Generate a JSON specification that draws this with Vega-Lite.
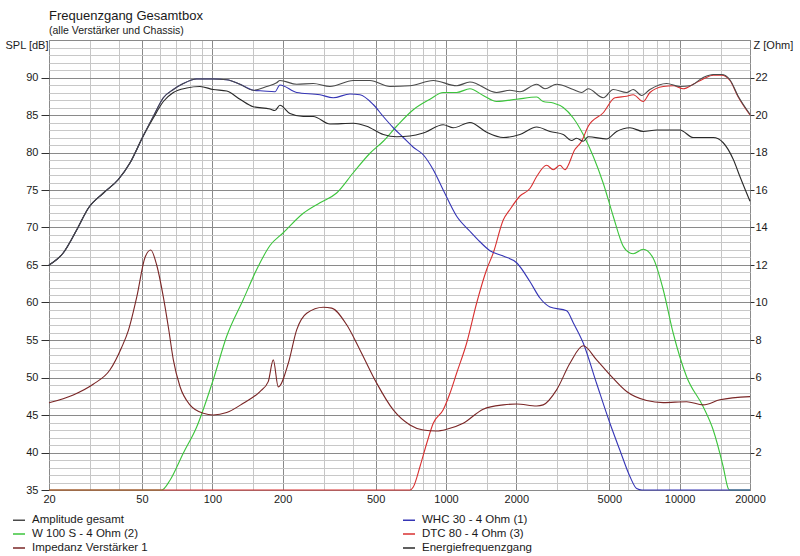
{
  "$schema": "https://vega.github.io/schema/vega-lite/v6.json",
  "width": 701,
  "height": 450,
  "autosize": {"type": "none"},
  "padding": {"left": 49, "top": 40, "right": 50, "bottom": 66},
  "background": "white",
  "title": {
    "text": "Frequenzgang Gesamtbox",
    "subtitle": "(alle Verstärker und Chassis)",
    "anchor": "start",
    "frame": "group",
    "font": "Liberation Sans",
    "fontSize": 13,
    "fontWeight": "normal",
    "color": "#1a1a1a",
    "subtitleFont": "Liberation Sans",
    "subtitleFontSize": 10.5,
    "subtitleColor": "#1a1a1a",
    "subtitlePadding": 3,
    "offset": -2
  },
  "datasets": {
    "spl": [
      {"s": "Amplitude gesamt", "f": 20, "v": 65.0},
      {"s": "Amplitude gesamt", "f": 23, "v": 66.6},
      {"s": "Amplitude gesamt", "f": 26.3, "v": 69.7},
      {"s": "Amplitude gesamt", "f": 29.5, "v": 72.6},
      {"s": "Amplitude gesamt", "f": 34.2, "v": 74.6},
      {"s": "Amplitude gesamt", "f": 39.6, "v": 76.4},
      {"s": "Amplitude gesamt", "f": 44.4, "v": 78.6},
      {"s": "Amplitude gesamt", "f": 50.6, "v": 82.2},
      {"s": "Amplitude gesamt", "f": 55.9, "v": 84.8},
      {"s": "Amplitude gesamt", "f": 61.7, "v": 87.3},
      {"s": "Amplitude gesamt", "f": 68.1, "v": 88.4},
      {"s": "Amplitude gesamt", "f": 75.1, "v": 89.2},
      {"s": "Amplitude gesamt", "f": 85.7, "v": 89.8},
      {"s": "Amplitude gesamt", "f": 100.9, "v": 89.8},
      {"s": "Amplitude gesamt", "f": 115.2, "v": 89.7},
      {"s": "Amplitude gesamt", "f": 131.3, "v": 89.1},
      {"s": "Amplitude gesamt", "f": 149.7, "v": 88.3},
      {"s": "Amplitude gesamt", "f": 170.8, "v": 88.8},
      {"s": "Amplitude gesamt", "f": 188.5, "v": 89.3},
      {"s": "Amplitude gesamt", "f": 194.7, "v": 89.6},
      {"s": "Amplitude gesamt", "f": 229.6, "v": 89.1},
      {"s": "Amplitude gesamt", "f": 270.4, "v": 89.2},
      {"s": "Amplitude gesamt", "f": 318.8, "v": 88.8},
      {"s": "Amplitude gesamt", "f": 401, "v": 89.6},
      {"s": "Amplitude gesamt", "f": 472.8, "v": 89.6},
      {"s": "Amplitude gesamt", "f": 575.8, "v": 88.8},
      {"s": "Amplitude gesamt", "f": 701, "v": 88.9},
      {"s": "Amplitude gesamt", "f": 882, "v": 89.6},
      {"s": "Amplitude gesamt", "f": 1111, "v": 88.9},
      {"s": "Amplitude gesamt", "f": 1266, "v": 89.4},
      {"s": "Amplitude gesamt", "f": 1647, "v": 88.0},
      {"s": "Amplitude gesamt", "f": 1878, "v": 88.3},
      {"s": "Amplitude gesamt", "f": 2072, "v": 88.1},
      {"s": "Amplitude gesamt", "f": 2444, "v": 89.1},
      {"s": "Amplitude gesamt", "f": 2652, "v": 88.5},
      {"s": "Amplitude gesamt", "f": 2974, "v": 89.1},
      {"s": "Amplitude gesamt", "f": 3504, "v": 88.4},
      {"s": "Amplitude gesamt", "f": 3806, "v": 88.0},
      {"s": "Amplitude gesamt", "f": 4062, "v": 88.5},
      {"s": "Amplitude gesamt", "f": 4710, "v": 87.3},
      {"s": "Amplitude gesamt", "f": 5196, "v": 88.4},
      {"s": "Amplitude gesamt", "f": 5930, "v": 88.0},
      {"s": "Amplitude gesamt", "f": 6328, "v": 88.4},
      {"s": "Amplitude gesamt", "f": 6874, "v": 87.6},
      {"s": "Amplitude gesamt", "f": 7460, "v": 88.4},
      {"s": "Amplitude gesamt", "f": 8794, "v": 89.2},
      {"s": "Amplitude gesamt", "f": 10026, "v": 88.8},
      {"s": "Amplitude gesamt", "f": 11062, "v": 88.9},
      {"s": "Amplitude gesamt", "f": 12610, "v": 90.0},
      {"s": "Amplitude gesamt", "f": 13920, "v": 90.4},
      {"s": "Amplitude gesamt", "f": 15118, "v": 90.4},
      {"s": "Amplitude gesamt", "f": 16408, "v": 89.7},
      {"s": "Amplitude gesamt", "f": 17806, "v": 87.5},
      {"s": "Amplitude gesamt", "f": 20000, "v": 85.1},

      {"s": "Energiefrequenzgang", "f": 20, "v": 65.0},
      {"s": "Energiefrequenzgang", "f": 23, "v": 66.6},
      {"s": "Energiefrequenzgang", "f": 26.3, "v": 69.7},
      {"s": "Energiefrequenzgang", "f": 29.5, "v": 72.6},
      {"s": "Energiefrequenzgang", "f": 34.2, "v": 74.6},
      {"s": "Energiefrequenzgang", "f": 39.6, "v": 76.4},
      {"s": "Energiefrequenzgang", "f": 44.4, "v": 78.6},
      {"s": "Energiefrequenzgang", "f": 50.6, "v": 82.2},
      {"s": "Energiefrequenzgang", "f": 55.9, "v": 84.6},
      {"s": "Energiefrequenzgang", "f": 61.7, "v": 86.8},
      {"s": "Energiefrequenzgang", "f": 68.1, "v": 88.0},
      {"s": "Energiefrequenzgang", "f": 77.7, "v": 88.6},
      {"s": "Energiefrequenzgang", "f": 88.5, "v": 88.8},
      {"s": "Energiefrequenzgang", "f": 100.9, "v": 88.4},
      {"s": "Energiefrequenzgang", "f": 115.2, "v": 88.2},
      {"s": "Energiefrequenzgang", "f": 131.3, "v": 87.1},
      {"s": "Energiefrequenzgang", "f": 149.7, "v": 86.1},
      {"s": "Energiefrequenzgang", "f": 176.5, "v": 85.8},
      {"s": "Energiefrequenzgang", "f": 185.4, "v": 85.6},
      {"s": "Energiefrequenzgang", "f": 194.7, "v": 86.3},
      {"s": "Energiefrequenzgang", "f": 214.9, "v": 85.2},
      {"s": "Energiefrequenzgang", "f": 245, "v": 84.8},
      {"s": "Energiefrequenzgang", "f": 270.4, "v": 84.8},
      {"s": "Energiefrequenzgang", "f": 318.8, "v": 83.8},
      {"s": "Energiefrequenzgang", "f": 401, "v": 83.9},
      {"s": "Energiefrequenzgang", "f": 457.6, "v": 83.5},
      {"s": "Energiefrequenzgang", "f": 539, "v": 82.4},
      {"s": "Energiefrequenzgang", "f": 614.8, "v": 82.1},
      {"s": "Energiefrequenzgang", "f": 701, "v": 82.2},
      {"s": "Energiefrequenzgang", "f": 799, "v": 82.6},
      {"s": "Energiefrequenzgang", "f": 973, "v": 83.7},
      {"s": "Energiefrequenzgang", "f": 1074, "v": 83.3},
      {"s": "Energiefrequenzgang", "f": 1266, "v": 84.0},
      {"s": "Energiefrequenzgang", "f": 1493, "v": 82.7},
      {"s": "Energiefrequenzgang", "f": 1758, "v": 82.0},
      {"s": "Energiefrequenzgang", "f": 2072, "v": 82.4},
      {"s": "Energiefrequenzgang", "f": 2444, "v": 83.4},
      {"s": "Energiefrequenzgang", "f": 2786, "v": 82.8},
      {"s": "Energiefrequenzgang", "f": 3176, "v": 82.4},
      {"s": "Energiefrequenzgang", "f": 3448, "v": 81.6},
      {"s": "Energiefrequenzgang", "f": 3622, "v": 81.9},
      {"s": "Energiefrequenzgang", "f": 3866, "v": 81.5},
      {"s": "Energiefrequenzgang", "f": 4062, "v": 82.1},
      {"s": "Energiefrequenzgang", "f": 4870, "v": 81.8},
      {"s": "Energiefrequenzgang", "f": 5374, "v": 82.8},
      {"s": "Energiefrequenzgang", "f": 6126, "v": 83.3},
      {"s": "Energiefrequenzgang", "f": 6982, "v": 82.8},
      {"s": "Energiefrequenzgang", "f": 7968, "v": 83.0},
      {"s": "Energiefrequenzgang", "f": 10026, "v": 83.0},
      {"s": "Energiefrequenzgang", "f": 11428, "v": 82.0},
      {"s": "Energiefrequenzgang", "f": 13920, "v": 82.0},
      {"s": "Energiefrequenzgang", "f": 15358, "v": 81.3},
      {"s": "Energiefrequenzgang", "f": 16950, "v": 79.1},
      {"s": "Energiefrequenzgang", "f": 18108, "v": 76.8},
      {"s": "Energiefrequenzgang", "f": 20000, "v": 73.5},

      {"s": "WHC 30 - 4 Ohm (1)", "f": 20, "v": 65.0},
      {"s": "WHC 30 - 4 Ohm (1)", "f": 23, "v": 66.6},
      {"s": "WHC 30 - 4 Ohm (1)", "f": 26.3, "v": 69.7},
      {"s": "WHC 30 - 4 Ohm (1)", "f": 29.5, "v": 72.6},
      {"s": "WHC 30 - 4 Ohm (1)", "f": 34.2, "v": 74.6},
      {"s": "WHC 30 - 4 Ohm (1)", "f": 39.6, "v": 76.4},
      {"s": "WHC 30 - 4 Ohm (1)", "f": 44.4, "v": 78.6},
      {"s": "WHC 30 - 4 Ohm (1)", "f": 50.6, "v": 82.2},
      {"s": "WHC 30 - 4 Ohm (1)", "f": 55.9, "v": 84.8},
      {"s": "WHC 30 - 4 Ohm (1)", "f": 61.7, "v": 87.3},
      {"s": "WHC 30 - 4 Ohm (1)", "f": 68.1, "v": 88.4},
      {"s": "WHC 30 - 4 Ohm (1)", "f": 75.1, "v": 89.2},
      {"s": "WHC 30 - 4 Ohm (1)", "f": 85.7, "v": 89.8},
      {"s": "WHC 30 - 4 Ohm (1)", "f": 100.9, "v": 89.8},
      {"s": "WHC 30 - 4 Ohm (1)", "f": 115.2, "v": 89.7},
      {"s": "WHC 30 - 4 Ohm (1)", "f": 131.3, "v": 89.1},
      {"s": "WHC 30 - 4 Ohm (1)", "f": 149.7, "v": 88.3},
      {"s": "WHC 30 - 4 Ohm (1)", "f": 165.2, "v": 88.2},
      {"s": "WHC 30 - 4 Ohm (1)", "f": 185.4, "v": 88.1},
      {"s": "WHC 30 - 4 Ohm (1)", "f": 194.7, "v": 89.0},
      {"s": "WHC 30 - 4 Ohm (1)", "f": 229.6, "v": 88.0},
      {"s": "WHC 30 - 4 Ohm (1)", "f": 288.8, "v": 87.7},
      {"s": "WHC 30 - 4 Ohm (1)", "f": 329.2, "v": 87.3},
      {"s": "WHC 30 - 4 Ohm (1)", "f": 388.2, "v": 87.8},
      {"s": "WHC 30 - 4 Ohm (1)", "f": 428.4, "v": 87.7},
      {"s": "WHC 30 - 4 Ohm (1)", "f": 488.4, "v": 86.4},
      {"s": "WHC 30 - 4 Ohm (1)", "f": 539, "v": 84.8},
      {"s": "WHC 30 - 4 Ohm (1)", "f": 594.8, "v": 83.3},
      {"s": "WHC 30 - 4 Ohm (1)", "f": 656.2, "v": 82.0},
      {"s": "WHC 30 - 4 Ohm (1)", "f": 724.4, "v": 80.7},
      {"s": "WHC 30 - 4 Ohm (1)", "f": 799, "v": 79.7},
      {"s": "WHC 30 - 4 Ohm (1)", "f": 882, "v": 77.7},
      {"s": "WHC 30 - 4 Ohm (1)", "f": 973, "v": 75.0},
      {"s": "WHC 30 - 4 Ohm (1)", "f": 1111, "v": 71.5},
      {"s": "WHC 30 - 4 Ohm (1)", "f": 1266, "v": 69.5},
      {"s": "WHC 30 - 4 Ohm (1)", "f": 1397, "v": 68.1},
      {"s": "WHC 30 - 4 Ohm (1)", "f": 1542, "v": 66.9},
      {"s": "WHC 30 - 4 Ohm (1)", "f": 1758, "v": 66.2},
      {"s": "WHC 30 - 4 Ohm (1)", "f": 2006, "v": 65.3},
      {"s": "WHC 30 - 4 Ohm (1)", "f": 2286, "v": 62.8},
      {"s": "WHC 30 - 4 Ohm (1)", "f": 2524, "v": 60.6},
      {"s": "WHC 30 - 4 Ohm (1)", "f": 2786, "v": 59.4},
      {"s": "WHC 30 - 4 Ohm (1)", "f": 3284, "v": 58.9},
      {"s": "WHC 30 - 4 Ohm (1)", "f": 3504, "v": 57.3},
      {"s": "WHC 30 - 4 Ohm (1)", "f": 3866, "v": 54.6},
      {"s": "WHC 30 - 4 Ohm (1)", "f": 4412, "v": 49.2},
      {"s": "WHC 30 - 4 Ohm (1)", "f": 5030, "v": 43.9},
      {"s": "WHC 30 - 4 Ohm (1)", "f": 5550, "v": 40.3},
      {"s": "WHC 30 - 4 Ohm (1)", "f": 6126, "v": 36.8},
      {"s": "WHC 30 - 4 Ohm (1)", "f": 6544, "v": 35.2},
      {"s": "WHC 30 - 4 Ohm (1)", "f": 6900, "v": 35.0},
      {"s": "WHC 30 - 4 Ohm (1)", "f": 20000, "v": 35.0},

      {"s": "W 100 S - 4 Ohm (2)", "f": 20, "v": 35.0},
      {"s": "W 100 S - 4 Ohm (2)", "f": 60.7, "v": 35.0},
      {"s": "W 100 S - 4 Ohm (2)", "f": 65.9, "v": 36.3},
      {"s": "W 100 S - 4 Ohm (2)", "f": 75.1, "v": 39.9},
      {"s": "W 100 S - 4 Ohm (2)", "f": 85.7, "v": 43.4},
      {"s": "W 100 S - 4 Ohm (2)", "f": 100.9, "v": 49.7},
      {"s": "W 100 S - 4 Ohm (2)", "f": 115.2, "v": 55.5},
      {"s": "W 100 S - 4 Ohm (2)", "f": 135.7, "v": 60.4},
      {"s": "W 100 S - 4 Ohm (2)", "f": 154.8, "v": 64.4},
      {"s": "W 100 S - 4 Ohm (2)", "f": 176.5, "v": 67.6},
      {"s": "W 100 S - 4 Ohm (2)", "f": 201.2, "v": 69.3},
      {"s": "W 100 S - 4 Ohm (2)", "f": 245, "v": 71.9},
      {"s": "W 100 S - 4 Ohm (2)", "f": 288.8, "v": 73.3},
      {"s": "W 100 S - 4 Ohm (2)", "f": 340.4, "v": 74.6},
      {"s": "W 100 S - 4 Ohm (2)", "f": 401, "v": 77.3},
      {"s": "W 100 S - 4 Ohm (2)", "f": 472.8, "v": 79.9},
      {"s": "W 100 S - 4 Ohm (2)", "f": 539, "v": 81.5},
      {"s": "W 100 S - 4 Ohm (2)", "f": 614.8, "v": 83.5},
      {"s": "W 100 S - 4 Ohm (2)", "f": 724.4, "v": 85.7},
      {"s": "W 100 S - 4 Ohm (2)", "f": 854, "v": 87.1},
      {"s": "W 100 S - 4 Ohm (2)", "f": 973, "v": 88.0},
      {"s": "W 100 S - 4 Ohm (2)", "f": 1111, "v": 88.0},
      {"s": "W 100 S - 4 Ohm (2)", "f": 1266, "v": 88.5},
      {"s": "W 100 S - 4 Ohm (2)", "f": 1443, "v": 87.6},
      {"s": "W 100 S - 4 Ohm (2)", "f": 1647, "v": 86.8},
      {"s": "W 100 S - 4 Ohm (2)", "f": 2006, "v": 87.1},
      {"s": "W 100 S - 4 Ohm (2)", "f": 2444, "v": 87.4},
      {"s": "W 100 S - 4 Ohm (2)", "f": 2606, "v": 86.8},
      {"s": "W 100 S - 4 Ohm (2)", "f": 2878, "v": 86.6},
      {"s": "W 100 S - 4 Ohm (2)", "f": 3176, "v": 86.0},
      {"s": "W 100 S - 4 Ohm (2)", "f": 3504, "v": 84.6},
      {"s": "W 100 S - 4 Ohm (2)", "f": 3866, "v": 82.4},
      {"s": "W 100 S - 4 Ohm (2)", "f": 4266, "v": 79.5},
      {"s": "W 100 S - 4 Ohm (2)", "f": 4710, "v": 75.9},
      {"s": "W 100 S - 4 Ohm (2)", "f": 5196, "v": 71.5},
      {"s": "W 100 S - 4 Ohm (2)", "f": 5734, "v": 67.5},
      {"s": "W 100 S - 4 Ohm (2)", "f": 6126, "v": 66.6},
      {"s": "W 100 S - 4 Ohm (2)", "f": 6328, "v": 66.5},
      {"s": "W 100 S - 4 Ohm (2)", "f": 6982, "v": 67.1},
      {"s": "W 100 S - 4 Ohm (2)", "f": 7706, "v": 65.9},
      {"s": "W 100 S - 4 Ohm (2)", "f": 8506, "v": 61.7},
      {"s": "W 100 S - 4 Ohm (2)", "f": 9386, "v": 55.9},
      {"s": "W 100 S - 4 Ohm (2)", "f": 10710, "v": 50.1},
      {"s": "W 100 S - 4 Ohm (2)", "f": 12610, "v": 46.1},
      {"s": "W 100 S - 4 Ohm (2)", "f": 13920, "v": 43.0},
      {"s": "W 100 S - 4 Ohm (2)", "f": 15358, "v": 38.1},
      {"s": "W 100 S - 4 Ohm (2)", "f": 16134, "v": 35.2},
      {"s": "W 100 S - 4 Ohm (2)", "f": 16400, "v": 35.0},
      {"s": "W 100 S - 4 Ohm (2)", "f": 20000, "v": 35.0},

      {"s": "DTC 80 - 4 Ohm (3)", "f": 20, "v": 35.0},
      {"s": "DTC 80 - 4 Ohm (3)", "f": 701, "v": 35.0},
      {"s": "DTC 80 - 4 Ohm (3)", "f": 724.4, "v": 35.4},
      {"s": "DTC 80 - 4 Ohm (3)", "f": 773.6, "v": 38.1},
      {"s": "DTC 80 - 4 Ohm (3)", "f": 826.6, "v": 41.2},
      {"s": "DTC 80 - 4 Ohm (3)", "f": 882, "v": 43.9},
      {"s": "DTC 80 - 4 Ohm (3)", "f": 973, "v": 45.7},
      {"s": "DTC 80 - 4 Ohm (3)", "f": 1040, "v": 47.9},
      {"s": "DTC 80 - 4 Ohm (3)", "f": 1111, "v": 50.6},
      {"s": "DTC 80 - 4 Ohm (3)", "f": 1226, "v": 54.6},
      {"s": "DTC 80 - 4 Ohm (3)", "f": 1352, "v": 59.9},
      {"s": "DTC 80 - 4 Ohm (3)", "f": 1493, "v": 64.4},
      {"s": "DTC 80 - 4 Ohm (3)", "f": 1593, "v": 66.6},
      {"s": "DTC 80 - 4 Ohm (3)", "f": 1758, "v": 71.0},
      {"s": "DTC 80 - 4 Ohm (3)", "f": 1878, "v": 72.4},
      {"s": "DTC 80 - 4 Ohm (3)", "f": 2072, "v": 74.2},
      {"s": "DTC 80 - 4 Ohm (3)", "f": 2286, "v": 75.2},
      {"s": "DTC 80 - 4 Ohm (3)", "f": 2444, "v": 76.8},
      {"s": "DTC 80 - 4 Ohm (3)", "f": 2696, "v": 78.3},
      {"s": "DTC 80 - 4 Ohm (3)", "f": 2878, "v": 77.7},
      {"s": "DTC 80 - 4 Ohm (3)", "f": 3074, "v": 78.3},
      {"s": "DTC 80 - 4 Ohm (3)", "f": 3228, "v": 77.7},
      {"s": "DTC 80 - 4 Ohm (3)", "f": 3562, "v": 80.4},
      {"s": "DTC 80 - 4 Ohm (3)", "f": 3806, "v": 81.5},
      {"s": "DTC 80 - 4 Ohm (3)", "f": 4062, "v": 83.5},
      {"s": "DTC 80 - 4 Ohm (3)", "f": 4710, "v": 85.3},
      {"s": "DTC 80 - 4 Ohm (3)", "f": 5284, "v": 87.3},
      {"s": "DTC 80 - 4 Ohm (3)", "f": 5930, "v": 87.5},
      {"s": "DTC 80 - 4 Ohm (3)", "f": 6328, "v": 87.7},
      {"s": "DTC 80 - 4 Ohm (3)", "f": 6982, "v": 86.8},
      {"s": "DTC 80 - 4 Ohm (3)", "f": 7460, "v": 88.0},
      {"s": "DTC 80 - 4 Ohm (3)", "f": 8506, "v": 88.8},
      {"s": "DTC 80 - 4 Ohm (3)", "f": 9386, "v": 88.9},
      {"s": "DTC 80 - 4 Ohm (3)", "f": 10358, "v": 88.5},
      {"s": "DTC 80 - 4 Ohm (3)", "f": 11428, "v": 89.1},
      {"s": "DTC 80 - 4 Ohm (3)", "f": 12610, "v": 89.8},
      {"s": "DTC 80 - 4 Ohm (3)", "f": 13920, "v": 90.3},
      {"s": "DTC 80 - 4 Ohm (3)", "f": 15118, "v": 90.3},
      {"s": "DTC 80 - 4 Ohm (3)", "f": 16408, "v": 89.6},
      {"s": "DTC 80 - 4 Ohm (3)", "f": 17806, "v": 87.4},
      {"s": "DTC 80 - 4 Ohm (3)", "f": 20000, "v": 85.0}
    ],
    "imp": [
      {"s": "Impedanz Verstärker 1", "f": 20, "v": 4.65},
      {"s": "Impedanz Verstärker 1", "f": 25.4, "v": 5.07},
      {"s": "Impedanz Verstärker 1", "f": 30.9, "v": 5.64},
      {"s": "Impedanz Verstärker 1", "f": 36.5, "v": 6.41},
      {"s": "Impedanz Verstärker 1", "f": 40.9, "v": 7.6},
      {"s": "Impedanz Verstärker 1", "f": 43.7, "v": 8.5},
      {"s": "Impedanz Verstärker 1", "f": 47.5, "v": 10.3},
      {"s": "Impedanz Verstärker 1", "f": 51.5, "v": 12.4},
      {"s": "Impedanz Verstärker 1", "f": 54.5, "v": 12.8},
      {"s": "Impedanz Verstärker 1", "f": 57.8, "v": 12.0},
      {"s": "Impedanz Verstärker 1", "f": 61.7, "v": 10.3},
      {"s": "Impedanz Verstärker 1", "f": 65, "v": 8.6},
      {"s": "Impedanz Verstärker 1", "f": 68.1, "v": 6.94},
      {"s": "Impedanz Verstärker 1", "f": 72.7, "v": 5.52},
      {"s": "Impedanz Verstärker 1", "f": 80.2, "v": 4.54},
      {"s": "Impedanz Verstärker 1", "f": 91.5, "v": 4.09},
      {"s": "Impedanz Verstärker 1", "f": 100.9, "v": 4.0},
      {"s": "Impedanz Verstärker 1", "f": 115.2, "v": 4.13},
      {"s": "Impedanz Verstärker 1", "f": 135.7, "v": 4.63},
      {"s": "Impedanz Verstärker 1", "f": 159.9, "v": 5.25},
      {"s": "Impedanz Verstärker 1", "f": 173.5, "v": 5.78},
      {"s": "Impedanz Verstärker 1", "f": 182.3, "v": 6.94},
      {"s": "Impedanz Verstärker 1", "f": 191.5, "v": 5.5},
      {"s": "Impedanz Verstärker 1", "f": 211.4, "v": 6.76},
      {"s": "Impedanz Verstärker 1", "f": 229.6, "v": 8.54},
      {"s": "Impedanz Verstärker 1", "f": 253.4, "v": 9.43},
      {"s": "Impedanz Verstärker 1", "f": 298.4, "v": 9.75},
      {"s": "Impedanz Verstärker 1", "f": 324.2, "v": 9.7},
      {"s": "Impedanz Verstärker 1", "f": 375.8, "v": 8.81},
      {"s": "Impedanz Verstärker 1", "f": 428.4, "v": 7.47},
      {"s": "Impedanz Verstärker 1", "f": 505, "v": 5.7},
      {"s": "Impedanz Verstärker 1", "f": 594.8, "v": 4.27},
      {"s": "Impedanz Verstärker 1", "f": 701, "v": 3.47},
      {"s": "Impedanz Verstärker 1", "f": 799, "v": 3.2},
      {"s": "Impedanz Verstärker 1", "f": 912, "v": 3.15},
      {"s": "Impedanz Verstärker 1", "f": 1007, "v": 3.24},
      {"s": "Impedanz Verstärker 1", "f": 1185, "v": 3.56},
      {"s": "Impedanz Verstärker 1", "f": 1443, "v": 4.31},
      {"s": "Impedanz Verstärker 1", "f": 1758, "v": 4.54},
      {"s": "Impedanz Verstärker 1", "f": 2006, "v": 4.59},
      {"s": "Impedanz Verstärker 1", "f": 2444, "v": 4.48},
      {"s": "Impedanz Verstärker 1", "f": 2606, "v": 4.54},
      {"s": "Impedanz Verstärker 1", "f": 2974, "v": 5.34},
      {"s": "Impedanz Verstärker 1", "f": 3392, "v": 6.76},
      {"s": "Impedanz Verstärker 1", "f": 3866, "v": 7.69},
      {"s": "Impedanz Verstärker 1", "f": 4412, "v": 6.94},
      {"s": "Impedanz Verstärker 1", "f": 5030, "v": 6.14},
      {"s": "Impedanz Verstärker 1", "f": 5930, "v": 5.25},
      {"s": "Impedanz Verstärker 1", "f": 7220, "v": 4.77},
      {"s": "Impedanz Verstärker 1", "f": 8506, "v": 4.66},
      {"s": "Impedanz Verstärker 1", "f": 10710, "v": 4.71},
      {"s": "Impedanz Verstärker 1", "f": 12610, "v": 4.54},
      {"s": "Impedanz Verstärker 1", "f": 14868, "v": 4.81},
      {"s": "Impedanz Verstärker 1", "f": 20000, "v": 4.98}
    ]
  },
  "encoding": {
    "x": {
      "field": "f",
      "type": "quantitative",
      "scale": {"type": "log", "domain": [20, 20000], "nice": false},
      "axis": {
        "title": null,
        "values": [20, 30, 40, 50, 60, 70, 80, 90, 100, 150, 200, 300, 400, 500, 600, 700, 800, 900, 1000, 1500, 2000, 3000, 4000, 5000, 6000, 7000, 8000, 9000, 10000, 15000, 20000],
        "labelExpr": "indexof([20, 50, 100, 200, 500, 1000, 2000, 5000, 10000, 20000], datum.value) >= 0 ? '' + datum.value : ''",
        "labelOverlap": false,
        "labelFlush": false,
        "grid": true,
        "gridColor": {"condition": {"test": "indexof([20, 50, 100, 200, 500, 1000, 2000, 5000, 10000, 20000], datum.value) >= 0", "value": "#8a8a8a"}, "value": "#c6c6c6"},
        "ticks": false,
        "tickSize": 0,
        "labelPadding": 3
      }
    }
  },
  "layer": [
    {
      "data": {"name": "spl"},
      "encoding": {
        "y": {
          "field": "v",
          "type": "quantitative",
          "scale": {"domain": [35, 95], "nice": false, "zero": false},
          "axis": {
            "title": "SPL [dB]",
            "titleAngle": 0,
            "titleAlign": "left",
            "titleBaseline": "middle",
            "titleX": -44,
            "titleY": 5,
            "values": [35, 36, 37, 38, 39, 40, 41, 42, 43, 44, 45, 46, 47, 48, 49, 50, 51, 52, 53, 54, 55, 56, 57, 58, 59, 60, 61, 62, 63, 64, 65, 66, 67, 68, 69, 70, 71, 72, 73, 74, 75, 76, 77, 78, 79, 80, 81, 82, 83, 84, 85, 86, 87, 88, 89, 90, 91, 92, 93, 94, 95],
            "labelExpr": "datum.value % 5 == 0 && datum.value < 95 ? '' + datum.value : ''",
            "labelOverlap": false,
            "labelFlush": false,
            "grid": true,
            "gridColor": {"condition": {"test": "datum.value % 5 == 0", "value": "#8a8a8a"}, "value": "#c8c8c8"},
            "tickOpacity": {"condition": {"test": "datum.value % 5 == 0 && datum.value < 95", "value": 1}, "value": 0},
            "tickSize": 8,
            "labelPadding": 3
          }
        },
        "color": {
          "field": "s",
          "type": "nominal",
          "scale": {
            "domain": ["Amplitude gesamt", "W 100 S - 4 Ohm (2)", "Impedanz Verstärker 1", "WHC 30 - 4 Ohm (1)", "DTC 80 - 4 Ohm (3)", "Energiefrequenzgang"],
            "range": ["#4a4a4a", "#3cc43c", "#7a2626", "#3535b5", "#d83030", "#2a2a2a"]
          },
          "legend": {
            "title": null,
            "orient": "none",
            "legendX": -37,
            "legendY": 473,
            "columns": 2,
            "columnPadding": 252,
            "rowPadding": 1,
            "symbolType": "stroke",
            "symbolSize": 144,
            "symbolStrokeWidth": 1.5,
            "labelFont": "Liberation Sans",
            "labelFontSize": 11.5,
            "labelColor": "#1a1a1a",
            "labelOffset": 6,
            "labelLimit": 300
          }
        }
      },
      "layer": [
        {"transform": [{"filter": "datum.s == 'W 100 S - 4 Ohm (2)'"}], "mark": {"type": "line", "strokeWidth": 1.1, "interpolate": "monotone"}},
        {"transform": [{"filter": "datum.s == 'DTC 80 - 4 Ohm (3)'"}], "mark": {"type": "line", "strokeWidth": 1.1, "interpolate": "monotone"}},
        {"transform": [{"filter": "datum.s == 'WHC 30 - 4 Ohm (1)'"}], "mark": {"type": "line", "strokeWidth": 1.1, "interpolate": "monotone"}},
        {"transform": [{"filter": "datum.s == 'Energiefrequenzgang'"}], "mark": {"type": "line", "strokeWidth": 1.1, "interpolate": "monotone"}},
        {"transform": [{"filter": "datum.s == 'Amplitude gesamt'"}], "mark": {"type": "line", "strokeWidth": 1.1, "interpolate": "monotone"}}
      ]
    },
    {
      "data": {"name": "imp"},
      "mark": {"type": "line", "strokeWidth": 1.1, "interpolate": "monotone"},
      "encoding": {
        "y": {
          "field": "v",
          "type": "quantitative",
          "scale": {"domain": [0, 24], "nice": false, "zero": false},
          "axis": {
            "orient": "right",
            "title": "Z [Ohm]",
            "titleAngle": 0,
            "titleAlign": "left",
            "titleBaseline": "middle",
            "titleX": 3,
            "titleY": 5,
            "values": [2, 4, 6, 8, 10, 12, 14, 16, 18, 20, 22],
            "grid": false,
            "tickSize": 4,
            "labelPadding": 1,
            "labelFlush": false
          }
        },
        "color": {"field": "s", "type": "nominal"}
      }
    }
  ],
  "resolve": {"scale": {"y": "independent"}},
  "config": {
    "font": "Liberation Sans",
    "view": {"stroke": "#6e6e6e", "strokeWidth": 1},
    "axis": {
      "domain": false,
      "labelFont": "Liberation Sans",
      "labelFontSize": 11,
      "labelColor": "#1a1a1a",
      "titleFont": "Liberation Sans",
      "titleFontSize": 11,
      "titleFontWeight": "normal",
      "titleColor": "#1a1a1a",
      "tickColor": "#303030",
      "gridWidth": 1
    }
  }
}
